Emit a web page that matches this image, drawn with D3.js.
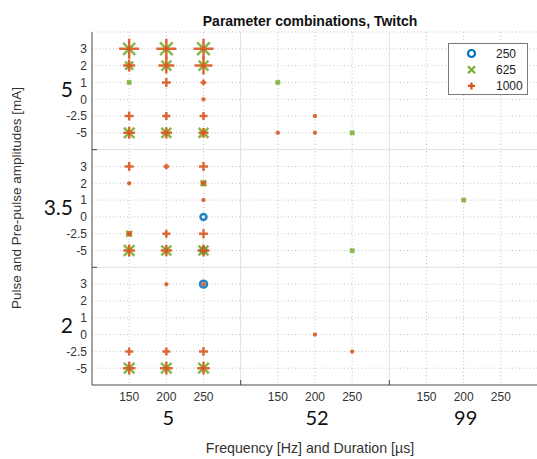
<!DOCTYPE html>
<html>
<head>
<meta charset="utf-8">
<script src="https://cdn.jsdelivr.net/npm/d3@7"></script>
<style>
  html, body { margin: 0; padding: 0; background: #fff; }
  svg { display: block; }
  text { font-family: "Liberation Sans", Arial, sans-serif; }
</style>
</head>
<body>
<svg id="chart" width="537" height="459"></svg>
<script>
// Outer / inner categories
const frequencies = [5, 52, 99];            // Hz
const durations = [150, 200, 250];          // µs
const pulseAmps = [5, 3.5, 2];              // mA
const prePulseAmps = [3, 2, 1, 0, -2.5, -5]; // mA
const prePulseTickLabels = ["3", "2", "1", "0", "-2.5", "-5"];
const durationTickLabels = ["150", "200", "250"];
const seriesNames = ["250", "625", "1000"];

// Observations: [frequency, duration, pulse, pre-pulse, count]
const series250 = [
  [5, 250, 3.5, 0, 2.2], [5, 250, 3.5, -5, 2], [5, 250, 2, 3, 3]
];
const series625 = [
  [5, 150, 5, 3, 9], [5, 200, 5, 3, 10], [5, 250, 5, 3, 10],
  [5, 150, 5, 2, 4], [5, 200, 5, 2, 6], [5, 250, 5, 2, 6],
  [5, 150, 5, 1, 1],
  [5, 150, 5, -5, 7], [5, 200, 5, -5, 6], [5, 250, 5, -5, 6],
  [52, 150, 5, 1, 1], [52, 250, 5, -5, 1],
  [5, 250, 3.5, 2, 2], [5, 150, 3.5, -2.5, 2],
  [5, 150, 3.5, -5, 7], [5, 200, 3.5, -5, 6], [5, 250, 3.5, -5, 6],
  [99, 200, 3.5, 1, 1], [52, 250, 3.5, -5, 1],
  [5, 150, 2, -5, 7], [5, 200, 2, -5, 7], [5, 250, 2, -5, 7]
];
const series1000 = [
  [5, 150, 5, 3, 25], [5, 200, 5, 3, 25], [5, 250, 5, 3, 25],
  [5, 150, 5, 2, 9], [5, 200, 5, 2, 16], [5, 250, 5, 2, 20],
  [5, 200, 5, 1, 5], [5, 250, 5, 1, 2], [5, 250, 5, 0, 1],
  [5, 150, 5, -2.5, 5], [5, 200, 5, -2.5, 4], [5, 250, 5, -2.5, 4],
  [5, 150, 5, -5, 9], [5, 200, 5, -5, 8], [5, 250, 5, -5, 6],
  [52, 150, 5, -5, 1], [52, 200, 5, -2.5, 1], [52, 200, 5, -5, 1],
  [5, 150, 3.5, 3, 5], [5, 200, 3.5, 3, 2], [5, 250, 3.5, 3, 5],
  [5, 150, 3.5, 2, 1], [5, 250, 3.5, 2, 2], [5, 250, 3.5, 1, 1],
  [5, 150, 3.5, -2.5, 2], [5, 200, 3.5, -2.5, 4], [5, 250, 3.5, -2.5, 5],
  [5, 150, 3.5, -5, 9], [5, 200, 3.5, -5, 8], [5, 250, 3.5, -5, 9],
  [5, 200, 2, 3, 1], [5, 250, 2, 3, 1],
  [5, 150, 2, -2.5, 4], [5, 200, 2, -2.5, 4], [5, 250, 2, -2.5, 5],
  [5, 150, 2, -5, 10], [5, 200, 2, -5, 10], [5, 250, 2, -5, 10],
  [52, 200, 2, 0, 1], [52, 250, 2, -2.5, 1]
];

const colors = ["#0072BD", "#77AC30", "#D95319"];
const symbols = ["circle", "cross-x", "plus"];

const svg = d3.select("#chart");
const plotLeft = 92, plotRight = 538, plotTop = 32, plotBottom = 385;

// Nested scales: a band per outer group, points for inner values
const xGroup = d3.scaleBand().domain(frequencies).range([plotLeft, plotRight]);
const xInner = d3.scalePoint().domain(durations).range([0, xGroup.bandwidth()]).padding(1);
const yGroup = d3.scaleBand().domain(pulseAmps).range([plotTop, plotBottom]);
const yInner = d3.scalePoint().domain(prePulseAmps).range([0, yGroup.bandwidth()]).padding(1);
const xPos = (f, d) => xGroup(f) + xInner(d);
const yPos = (p, q) => yGroup(p) + yInner(q);
const size = d3.scaleSqrt().domain([0, 25]).range([0, 20]);

const grid = svg.append("g");
// dotted grid at every inner category
frequencies.forEach(f => durations.forEach(d => {
  grid.append("line")
    .attr("x1", xPos(f, d)).attr("x2", xPos(f, d))
    .attr("y1", plotTop).attr("y2", plotBottom)
    .attr("stroke", "#c4c4c4").attr("stroke-width", 1).attr("stroke-dasharray", "1,2.5");
}));
pulseAmps.forEach(p => prePulseAmps.forEach(q => {
  grid.append("line")
    .attr("x1", plotLeft).attr("x2", plotRight)
    .attr("y1", yPos(p, q)).attr("y2", yPos(p, q))
    .attr("stroke", "#c4c4c4").attr("stroke-width", 1).attr("stroke-dasharray", "1,2.5");
}));
// top edge of the plot area, dotted
grid.append("line").attr("x1", plotLeft).attr("x2", plotRight).attr("y1", plotTop).attr("y2", plotTop)
  .attr("stroke", "#c4c4c4").attr("stroke-width", 1).attr("stroke-dasharray", "1,2.5");
// solid separators between outer groups
frequencies.slice(1).forEach(f => {
  const x = xGroup(f);
  grid.append("line").attr("x1", x).attr("x2", x).attr("y1", plotTop).attr("y2", plotBottom)
    .attr("stroke", "#e0e0e0").attr("stroke-width", 1);
});
pulseAmps.slice(1).forEach(p => {
  const y = yGroup(p);
  grid.append("line").attr("x1", plotLeft).attr("x2", plotRight).attr("y1", y).attr("y2", y)
    .attr("stroke", "#e0e0e0").attr("stroke-width", 1);
});

// axes lines and separator ticks
const axisColor = "#4a4a4a";
svg.append("line").attr("x1", plotLeft).attr("x2", plotLeft).attr("y1", plotTop).attr("y2", plotBottom)
  .attr("stroke", axisColor);
svg.append("line").attr("x1", plotLeft).attr("x2", plotRight).attr("y1", plotBottom).attr("y2", plotBottom)
  .attr("stroke", axisColor);
frequencies.slice(1).forEach(f => {
  svg.append("line").attr("x1", xGroup(f)).attr("x2", xGroup(f))
    .attr("y1", plotBottom).attr("y2", plotBottom - 5).attr("stroke", axisColor);
});
pulseAmps.slice(1).forEach(p => {
  svg.append("line").attr("x1", plotLeft).attr("x2", plotLeft + 5)
    .attr("y1", yGroup(p)).attr("y2", yGroup(p)).attr("stroke", axisColor);
});

// tick labels
const tickColor = "#333";
pulseAmps.forEach(p => prePulseAmps.forEach((q, i) => {
  svg.append("text").attr("x", plotLeft - 5).attr("y", yPos(p, q)).attr("dy", "0.36em")
    .attr("text-anchor", "end").attr("font-size", 12).attr("fill", tickColor)
    .text(prePulseTickLabels[i]);
}));
frequencies.forEach(f => durations.forEach((d, i) => {
  svg.append("text").attr("x", xPos(f, d)).attr("y", plotBottom + 16)
    .attr("text-anchor", "middle").attr("font-size", 12).attr("fill", tickColor)
    .text(durationTickLabels[i]);
}));

// outer group labels
frequencies.forEach(f => {
  svg.append("text").attr("x", xPos(f, 200) + 2).attr("y", plotBottom + 40)
    .attr("text-anchor", "middle").attr("font-size", 20)
    .style("font-family", "Lato, 'Open Sans', sans-serif").attr("fill", "#111")
    .text(String(f));
});
pulseAmps.forEach(p => {
  svg.append("text").attr("x", 73).attr("y", yGroup(p) + yGroup.bandwidth() / 2 - 1).attr("dy", "0.36em")
    .attr("text-anchor", "end").attr("font-size", 21)
    .style("font-family", "Lato, 'Open Sans', sans-serif").attr("fill", "#111")
    .text(String(p));
});

// titles
svg.append("text").attr("x", 310).attr("y", 26).attr("text-anchor", "middle")
  .attr("font-size", 14).attr("font-weight", "bold").attr("fill", "#111")
  .text("Parameter combinations, Twitch");
svg.append("text").attr("x", 310).attr("y", 453).attr("text-anchor", "middle")
  .attr("font-size", 14.2).attr("fill", "#333")
  .text("Frequency [Hz] and Duration [µs]");
svg.append("text").attr("transform", "translate(21,198) rotate(-90)").attr("text-anchor", "middle")
  .attr("font-size", 13.5).attr("fill", "#333")
  .text("Pulse and Pre-pulse amplitudes [mA]");

// marker shapes
function markerPath(kind, s) {
  const h = s / 2;
  if (kind === "plus") return `M${-h},0H${h}M0,${-h}V${h}`;
  if (kind === "cross-x") return `M${-h},${-h}L${h},${h}M${-h},${h}L${h},${-h}`;
  return d3.arc()({ innerRadius: 0, outerRadius: h, startAngle: 0, endAngle: 2 * Math.PI });
}

const allSeries = [series250, series625, series1000];
const marks = svg.append("g");
allSeries.forEach((data, si) => {
  marks.append("g").selectAll("path").data(data).join("path")
    .attr("transform", d => `translate(${xPos(d[0], d[1])},${yPos(d[2], d[3])})`)
    .attr("d", d => markerPath(symbols[si], Math.max(size(d[4]), 4)))
    .attr("fill", "none")
    .attr("stroke", colors[si])
    .attr("stroke-width", 2.5)
    .attr("stroke-opacity", 0.88);
});

// legend
const lg = svg.append("g");
lg.append("rect").attr("x", 448.5).attr("y", 43.5).attr("width", 79).attr("height", 51)
  .attr("fill", "#fff").attr("stroke", "#7a7a7a").attr("stroke-width", 1);
seriesNames.forEach((name, i) => {
  const y = 53.5 + i * 16.2;
  lg.append("path").attr("transform", `translate(471.5,${y})`)
    .attr("d", markerPath(symbols[i], 7))
    .attr("fill", "none").attr("stroke", colors[i]).attr("stroke-width", 2.2);
  lg.append("text").attr("x", 496).attr("y", y).attr("dy", "0.36em")
    .attr("font-size", 12).attr("fill", "#222").text(name);
});
</script>
</body>
</html>
